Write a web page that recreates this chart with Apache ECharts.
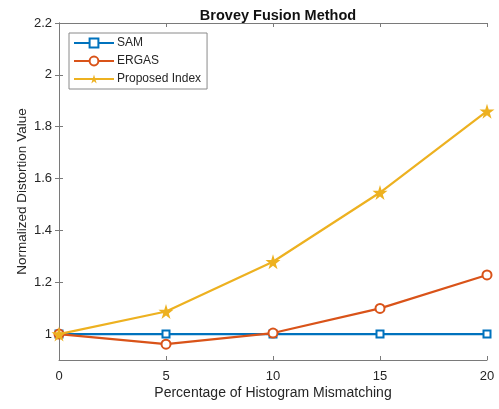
<!DOCTYPE html>
<html>
<head>
<meta charset="utf-8">
<script src="https://cdn.jsdelivr.net/npm/echarts@6/dist/echarts.min.js"></script>
<style>html,body{margin:0;padding:0;background:#fff}#c{width:499px;height:409px}</style>
</head>
<body>
<div id="c"></div>
<script>
const xValues = [0, 5, 10, 15, 20];
const samValues = [1, 1, 1, 1, 1];
const ergasValues = [1, 0.961, 1.004, 1.099, 1.228];
const proposedValues = [1, 1.087, 1.279, 1.546, 1.86];
const yTicks = [1, 1.2, 1.4, 1.6, 1.8, 2, 2.2];
const xTicks = [0, 5, 10, 15, 20];

const axisColor = '#7a7a7a';
const textColor = '#262626';
const font = 'Liberation Sans, Arial, sans-serif';
const star = 'path://M50,0 L61,35 L98,35 L68,57 L79,91 L50,70 L21,91 L32,57 L2,35 L39,35 Z';

const pairs = v => xValues.map((x, i) => [x, v[i]]);

const chart = echarts.init(document.getElementById('c'), null, {renderer: 'canvas'});
chart.setOption({
  animation: false,
  backgroundColor: '#fff',
  title: {
    text: 'Brovey Fusion Method', left: 273, textAlign: 'center', top: 3,
    textStyle: {fontFamily: font, fontWeight: 'bold', fontSize: 14.5, color: '#111'}
  },
  legend: {
    left: 69, top: 33, orient: 'vertical',
    backgroundColor: '#fff', borderColor: '#8a8a8a', borderWidth: 1, borderRadius: 0,
    padding: [4, 6, 4, 4], itemGap: 6, itemWidth: 40, itemHeight: 11,
    textStyle: {fontFamily: font, fontSize: 12, color: textColor, padding: [0, 0, 0, -2]},
    data: ['SAM', 'ERGAS', 'Proposed Index']
  },
  grid: {left: 59, top: 23, right: 12, bottom: 49},
  xAxis: [{
    type: 'value', min: 0, max: 20, interval: 5,
    name: 'Percentage of Histogram Mismatching', nameLocation: 'middle', nameGap: 26,
    nameMoveOverlap: false,
    nameTextStyle: {fontFamily: font, fontSize: 14, color: textColor},
    axisLine: {show: true, lineStyle: {color: axisColor, width: 1}},
    axisTick: {show: true, inside: true, length: 4, lineStyle: {color: axisColor}},
    axisLabel: {fontFamily: font, fontSize: 13, color: textColor, margin: 10, customValues: xTicks},
    splitLine: {show: false}
  }, {
    type: 'value', min: 0, max: 20, interval: 5, position: 'top',
    axisLine: {show: true, lineStyle: {color: axisColor, width: 1}},
    axisTick: {show: true, inside: true, length: 4, lineStyle: {color: axisColor}},
    axisLabel: {show: false}, splitLine: {show: false}
  }],
  yAxis: [{
    type: 'value', min: 0.9, max: 2.2,
    name: 'Normalized Distortion Value', nameLocation: 'middle', nameGap: 30,
    nameMoveOverlap: false,
    nameTextStyle: {fontFamily: font, fontSize: 13.5, color: textColor},
    axisLine: {show: true, lineStyle: {color: axisColor, width: 1}},
    axisTick: {show: true, inside: true, length: 4, lineStyle: {color: axisColor}, customValues: yTicks},
    axisLabel: {fontFamily: font, fontSize: 13, color: textColor, margin: 7, customValues: yTicks,
      formatter: v => String(Math.round(v * 10) / 10)},
    splitLine: {show: false}
  }, {
    type: 'value', min: 0.9, max: 2.2, position: 'right',
    axisLine: {show: true, lineStyle: {color: axisColor, width: 1}},
    axisTick: {show: true, inside: true, length: 4, lineStyle: {color: axisColor}, customValues: yTicks},
    axisLabel: {show: false}, splitLine: {show: false}
  }],
  series: [{
    name: 'SAM', type: 'line', data: pairs(samValues), clip: false,
    symbol: 'emptyRect', symbolSize: 7, color: '#0072BD',
    lineStyle: {width: 2.2, color: '#0072BD'},
    itemStyle: {color: '#0072BD', borderWidth: 1.5}, z: 3
  }, {
    name: 'ERGAS', type: 'line', data: pairs(ergasValues), clip: false,
    symbol: 'emptyCircle', symbolSize: 9, color: '#D95319',
    lineStyle: {width: 2.2, color: '#D95319'},
    itemStyle: {color: '#D95319', borderWidth: 1.6}, z: 4
  }, {
    name: 'Proposed Index', type: 'line', data: pairs(proposedValues), clip: false,
    symbol: star, symbolSize: 15, color: '#EDB120',
    lineStyle: {width: 2.2, color: '#EDB120'},
    itemStyle: {color: '#EDB120'}, z: 5
  }]
});
</script>
</body>
</html>
